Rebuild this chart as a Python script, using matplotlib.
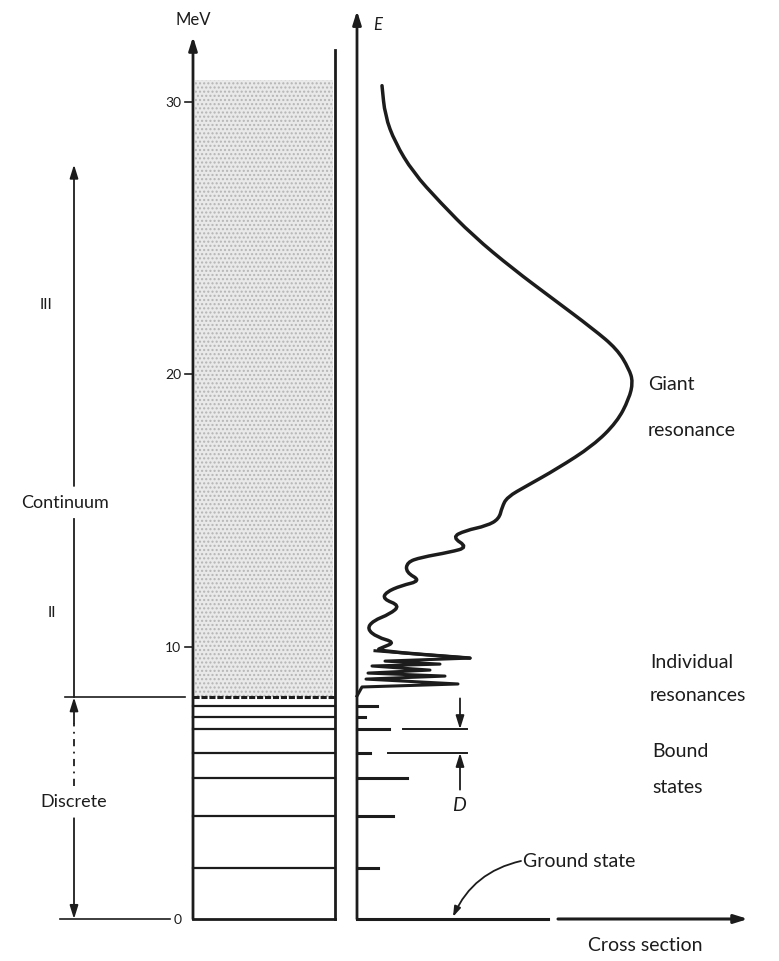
import numpy as np
import matplotlib.pyplot as plt
from matplotlib.path import Path
from matplotlib.patches import PathPatch

# 能級図と断面積 (E in MeV)
levels = [1.88, 3.80, 5.16, 6.10, 6.97, 7.40, 7.82]          # bound states
bar_len = [21, 36, 50, 13, 32, 8, 20]                          # cross-section bars
E_cont = 8.14                                                   # continuum threshold
ticks = [0, 10, 20, 30]

# cross section curve (sigma, E)
sig = [25, 28, 38, 56, 83, 116, 156, 196, 236, 260, 272, 276, 272, 260, 236, 200,
       170, 150, 145, 142, 130, 108, 95, 111, 93, 64, 50, 49, 64, 44, 29, 26, 43,
       33, 16, 10, 20, 38, 26, 18,
       113, 28, 83, 15, 73, 11, 88, 9, 101, 5, 0]
ene = [30.60, 29.50, 28.52, 27.42, 26.32, 25.09, 23.87, 22.77, 21.67, 20.93, 20.20,
       19.72, 19.10, 18.25, 17.38, 16.53, 15.91, 15.49, 15.12, 14.69, 14.44, 14.26,
       14.02, 13.65, 13.47, 13.28, 13.10, 12.73, 12.42, 12.24, 12.00, 11.75, 11.51,
       11.20, 10.95, 10.65, 10.35, 10.16, 9.98, 9.85,
       9.58, 9.47, 9.36, 9.29, 9.14, 9.03, 8.92, 8.81, 8.63, 8.52, 8.19]
n_smooth = 40   # first points drawn as a smooth curve, the rest as sharp spikes

K = '#1c1c1c'
FONT = ['Lato', 'DejaVu Sans']
plt.rcParams['font.family'] = FONT

px = 27.23  # pixels per MeV
fig = plt.figure(figsize=(7.79, 9.62), dpi=100)
ax = fig.add_axes([0, 0, 1, 1])
ax.set_xlim(0, 779)
ax.set_ylim(-42 / px, 30 + 103 / px)
ax.axis('off')

def arrow(x0, y0, x1, y1, lw=1.6):
    ax.annotate('', xy=(x1, y1), xytext=(x0, y0),
                arrowprops=dict(arrowstyle='-|>,head_length=0.8,head_width=0.25',
                                color=K, lw=lw, shrinkA=0, shrinkB=0))

# ---- left: level scheme
xl, xr = 193, 335
ax.fill_between([xl + 2, xr - 2], E_cont, 30.8, facecolor='#e9e9e9',
                hatch='....', edgecolor='#b5b5b5', linewidth=0)
arrow(xl, 0, xl, 32.4, lw=2)
ax.plot([xr, xr], [0, 31.9], color=K, lw=2)
ax.plot([xl, xr], [0, 0], color=K, lw=2)
for e in levels:
    ax.plot([xl, xr], [e, e], color=K, lw=1.6)
ax.plot([xl, xr], [E_cont, E_cont], color=K, lw=2.2, ls=(0, (2, 0.6)))
ax.plot([65, 185], [E_cont, E_cont], color=K, lw=1.2)
ax.plot([60, 170], [0, 0], color=K, lw=1.2)
for t in ticks[1:]:
    ax.plot([185, xl], [t, t], color=K, lw=1.2)
    ax.text(181, t, str(t), ha='right', va='center', fontsize=10, color=K)
ax.text(182, 0, '0', ha='right', va='center', fontsize=10, color=K)
ax.text(xl, 33.05, 'MeV', ha='center', va='center', fontsize=12, color=K)

# ---- region arrows
xa = 74
arrow(xa, 15.9, xa, 27.7, lw=1.3)
ax.plot([xa, xa], [E_cont, 14.7], color=K, lw=1.3)
ax.text(65, 15.31, 'Continuum', ha='center', va='center', fontsize=13, color=K)
ax.text(46, 22.6, 'III', ha='center', va='center', fontsize=11, color=K)
ax.text(52, 11.27, 'II', ha='center', va='center', fontsize=11, color=K)
arrow(xa, 7.2, xa, E_cont, lw=1.3)
ax.plot([xa, xa], [4.9, 7.2], color=K, lw=1.3, ls=(0, (4, 3, 1, 3)))
ax.text(xa, 4.33, 'Discrete', ha='center', va='center', fontsize=13, color=K)
arrow(xa, 3.7, xa, 0, lw=1.3)

# ---- right: cross section
x0 = 357
arrow(x0, 0, x0, 33.35, lw=2)
ax.plot([x0, 548], [0, 0], color=K, lw=2.2)
arrow(558, 0, 748, 0, lw=2.2)
ax.text(378, 32.87, 'E', ha='center', va='center', fontsize=12,
        style='italic', color=K)
for e, b in zip(levels, bar_len):
    ax.plot([x0, x0 + b], [e, e], color=K, lw=2.2)

# smooth part: points used as quadratic control points through midpoints
pts = np.column_stack([x0 + np.array(sig[:n_smooth + 1], float),
                       np.array(ene[:n_smooth + 1])])
verts = [pts[0], (pts[0] + pts[1]) / 2]
codes = [Path.MOVETO, Path.LINETO]
for i in range(1, len(pts) - 1):
    verts += [pts[i], (pts[i] + pts[i + 1]) / 2]
    codes += [Path.CURVE3, Path.CURVE3]
verts.append(pts[-1])
codes.append(Path.LINETO)
ax.add_patch(PathPatch(Path(verts, codes), fill=False, edgecolor=K, lw=2.5,
                       capstyle='round', joinstyle='round'))
ax.plot([x0 + s for s in sig[n_smooth - 1:]], ene[n_smooth - 1:], color=K,
        lw=2.2, solid_joinstyle='round')

# level spacing D
ax.plot([403, 467], [levels[4], levels[4]], color=K, lw=1.4)
ax.plot([388, 467], [levels[3], levels[3]], color=K, lw=1.4)
arrow(460, 8.1, 460, levels[4], lw=1.3)
arrow(460, 4.75, 460, levels[3], lw=1.3)
ax.text(459, 4.22, 'D', ha='center', va='center', fontsize=14,
        style='italic', color=K)

# labels
kw = dict(ha='left', va='center', fontsize=14, color=K)
ax.text(648, 19.65, 'Giant', **kw)
ax.text(648, 17.99, 'resonance', **kw)
ax.text(650, 9.47, 'Individual', **kw)
ax.text(650, 8.26, 'resonances', **kw)
ax.text(652, 6.17, 'Bound', **kw)
ax.text(652, 4.88, 'states', **kw)
ax.text(523, 2.13, 'Ground state', **kw)
ax.text(645, -0.92, 'Cross section', ha='center', va='center', fontsize=14, color=K)
ax.annotate('', xy=(453, 0.08), xytext=(521, 2.13),
            arrowprops=dict(arrowstyle='-|>,head_length=0.6,head_width=0.2',
                            color=K, lw=1.3, shrinkA=0, shrinkB=0,
                            connectionstyle='arc3,rad=0.25'))

fig.savefig('out.png', dpi=100, facecolor='white')
